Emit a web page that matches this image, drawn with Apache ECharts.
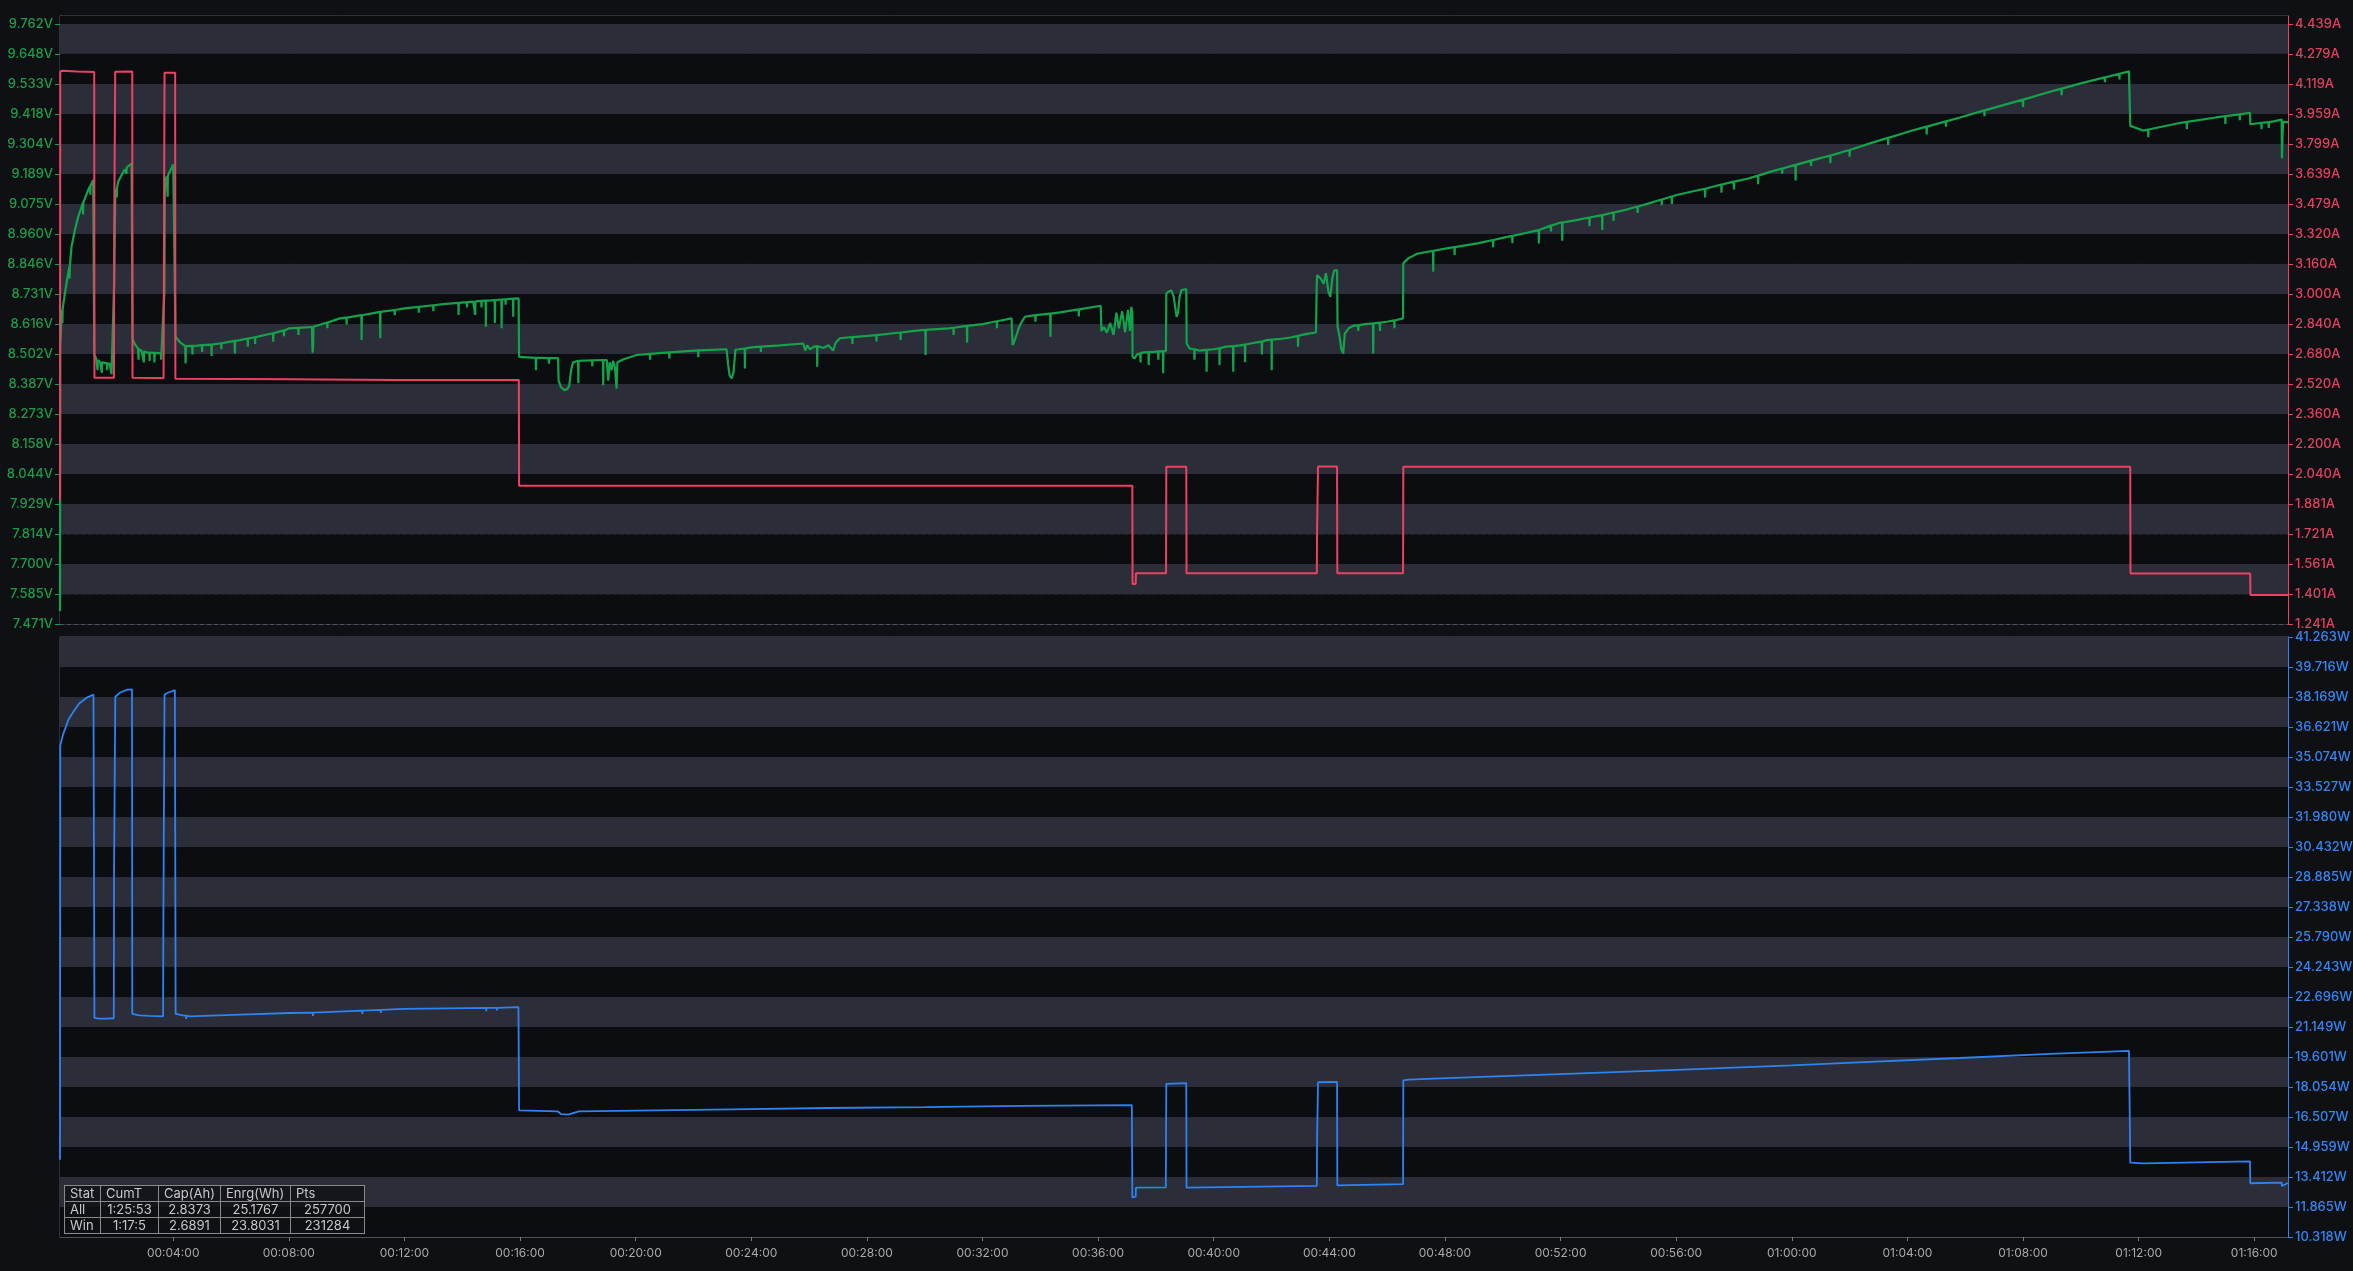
<!DOCTYPE html>
<html>
<head>
<meta charset="utf-8">
<script src="https://cdn.jsdelivr.net/npm/echarts@6/dist/echarts.min.js"></script>
<style>
html,body{margin:0;padding:0;background:#0f1014;width:2353px;height:1271px;overflow:hidden}
#chart{position:absolute;left:0;top:0;width:2353px;height:1271px}
#stats{position:absolute;left:64px;top:1185px;border-collapse:collapse;background:rgba(16,17,21,0.82);
  font-family:Inter,"Noto Sans",sans-serif;font-size:13px;color:#c8c8c8;table-layout:fixed}
#stats td{border:1px solid #8a8a8a;height:15px;line-height:15px;padding:0 0 0 5px;white-space:nowrap;overflow:hidden}
#stats td.c{text-align:center;padding:0}
</style>
</head>
<body>
<div id="chart"></div>
<table id="stats"></table>
<script>
// ---- tick labels ----
const voltTickLabels = ['7.471','7.585','7.700','7.814','7.929','8.044','8.158','8.273','8.387','8.502','8.616','8.731','8.846','8.960','9.075','9.189','9.304','9.418','9.533','9.648','9.762'];
const ampTickLabels = ['1.241','1.401','1.561','1.721','1.881','2.040','2.200','2.360','2.520','2.680','2.840','3.000','3.160','3.320','3.479','3.639','3.799','3.959','4.119','4.279','4.439'];
const wattTickLabels = ['10.318','11.865','13.412','14.959','16.507','18.054','19.601','21.149','22.696','24.243','25.790','27.338','28.885','30.432','31.980','33.527','35.074','36.621','38.169','39.716','41.263'];
const timeTickLabels = ['00:04:00','00:08:00','00:12:00','00:16:00','00:20:00','00:24:00','00:28:00','00:32:00','00:36:00','00:40:00','00:44:00','00:48:00','00:52:00','00:56:00','01:00:00','01:04:00','01:08:00','01:12:00','01:16:00'];
const timeWindow = [5, 4630];

// ---- stats table ----
const statHeader = ['Stat','CumT','Cap(Ah)','Enrg(Wh)','Pts'];
const statRows = [['All','1:25:53','2.8373','25.1767','257700'],['Win','1:17:5','2.6891','23.8031','231284']];

// ---- series: [seconds, value] ----
const voltage = [
[5,7.52],[5.5,8.525],[8.3,8.657],[9.5,8.668],[10,8.62],[10.5,8.674],[15.2,8.734],[22,8.810],[24.5,8.835],[25,8.79],[25.5,8.84],[29,8.912],[35.9,8.975],[42.8,9.026],[49.8,9.064],[52.5,9.079],[53,9.035],[53.5,9.081],[56.7,9.096],[63.5,9.128],[67.5,9.143],[68,9.11],[68.5,9.144],[73.9,9.166],[75.5,9.170],
[76.2,8.50],[80,8.485],[82.5,8.478],[83,8.44],[83.5,8.478],[88,8.472],[91.5,8.470],[92,8.43],[92.5,8.470],[98,8.468],[102.5,8.466],[103,8.44],[103.5,8.466],[108,8.465],[111.5,8.462],[112,8.425],[112.5,8.462],[116.5,8.46],
[117.5,8.78],[118.8,8.96],[119.8,9.10],[121,9.122],[122.5,9.133],[123,9.10],[123.5,9.136],[125.8,9.160],[132.9,9.185],[139.7,9.207],[142.5,9.213],[143,9.19],[143.5,9.214],[146.2,9.221],[153.6,9.230],[154.8,9.232],
[155.6,8.562],[158,8.548],[161,8.538],[164,8.530],[167,8.522],[167.5,8.521],[168,8.48],[168.5,8.52],[174.4,8.514],[178.5,8.511],[179,8.47],[179.5,8.511],[184.8,8.508],[190.5,8.507],[191,8.475],[191.5,8.507],[200.5,8.506],[201,8.47],[201.5,8.506],[210,8.505],[214.5,8.504],[215,8.48],[215.5,8.504],[219.5,8.504],
[220.5,8.70],[221.8,8.74],[222.5,9.10],[223.4,9.166],[227,9.18],[228,9.181],[228.4,9.102],[228.9,9.183],[232,9.195],[236,9.210],[240,9.225],[244,9.232],
[244.8,8.568],[255,8.545],[265,8.532],[265.7,8.466],[266.4,8.532],[279.5,8.533],[280,8.50],[280.5,8.533],[290,8.534],[299.5,8.536],[300,8.51],[300.5,8.536],[319.2,8.538],[319.7,8.494],[320.2,8.538],[339.5,8.543],[340,8.52],[340.5,8.543],[350,8.546],[367.6,8.552],[368.1,8.504],[368.6,8.552],[378.4,8.555],[394.5,8.561],[395,8.53],[395.5,8.561],[409.5,8.566],[410,8.54],[410.5,8.566],[420,8.570],[447.1,8.581],[447.6,8.549],[448.1,8.581],[450,8.582],[469.5,8.592],[470,8.57],[470.5,8.592],[480.8,8.600],[499.5,8.602],[500,8.575],[500.5,8.602],[528,8.605],[529,8.52],[529.5,8.507],[530.5,8.53],[531,8.606],[559.5,8.622],[560,8.60],[560.5,8.622],[586,8.638],[599.5,8.641],[600,8.615],[600.5,8.641],[630.6,8.650],[631.1,8.555],[631.6,8.650],[669.3,8.663],[669.8,8.562],[670.3,8.663],[699.5,8.670],[700,8.65],[700.5,8.670],[719.5,8.676],[749.5,8.682],[750,8.66],[750.5,8.682],[779.5,8.688],[780,8.665],[780.5,8.688],[800,8.692],[831.9,8.697],[832.4,8.651],[832.9,8.697],[849.5,8.700],[850,8.68],[850.5,8.700],[862.8,8.702],[866.4,8.703],[866.9,8.651],[867.4,8.703],[879.5,8.705],[880,8.68],[880.5,8.705],[888.6,8.706],[889.1,8.606],[889.6,8.706],[900,8.707],[907.3,8.708],[907.8,8.62],[908.3,8.708],[921.2,8.710],[921.7,8.600],[922.2,8.710],[929.5,8.711],[930,8.69],[930.5,8.711],[945.3,8.713],[945.8,8.644],[946.3,8.713],[957,8.714],
[958,8.491],[992.5,8.487],[993,8.44],[993.5,8.487],[1000,8.487],[1019.5,8.486],[1020,8.465],[1020.5,8.486],[1039,8.486],[1040,8.40],[1045,8.375],[1052,8.364],[1058,8.368],[1062,8.38],[1066,8.44],[1070,8.47],[1080.5,8.476],[1081,8.390],[1081.5,8.476],[1109.5,8.478],[1110,8.455],[1110.5,8.478],[1132.1,8.479],[1132.6,8.383],[1133.1,8.479],[1140,8.479],[1143,8.40],[1146,8.47],[1150,8.44],[1153,8.476],[1157,8.45],[1160.4,8.370],[1162,8.47],[1175,8.482],[1202,8.498],[1229.5,8.502],[1230,8.48],[1230.5,8.502],[1250,8.505],[1269.5,8.508],[1270,8.485],[1270.5,8.508],[1300,8.512],[1329.5,8.516],[1330,8.49],[1330.5,8.516],[1388.8,8.520],[1392,8.46],[1395,8.42],[1399.2,8.409],[1403,8.43],[1407,8.518],[1426.3,8.523],[1426.8,8.447],[1427.3,8.523],[1439.9,8.527],[1459.5,8.530],[1460,8.51],[1460.5,8.530],[1500,8.535],[1547.8,8.542],[1552,8.515],[1556,8.535],[1562,8.52],[1570,8.53],[1576.4,8.532],[1576.9,8.453],[1577.4,8.532],[1590,8.525],[1600,8.535],[1610,8.515],[1615,8.545],[1624,8.562],[1649.5,8.566],[1650,8.54],[1650.5,8.566],[1681.5,8.571],[1699.5,8.574],[1700,8.55],[1700.5,8.574],[1749.5,8.584],[1750,8.555],[1750.5,8.584],[1783.2,8.591],[1801.4,8.594],[1801.9,8.498],[1802.4,8.594],[1850,8.600],[1859.5,8.602],[1860,8.575],[1860.5,8.602],[1887.5,8.609],[1888,8.545],[1888.5,8.609],[1920.2,8.616],[1949.5,8.627],[1950,8.60],[1950.5,8.627],[1980.4,8.638],[1981,8.60],[1982.5,8.536],[1988,8.56],[1995,8.60],[2000,8.62],[2008,8.644],[2029.5,8.650],[2030,8.625],[2030.5,8.650],[2060.5,8.656],[2061,8.568],[2061.5,8.656],[2080.7,8.661],[2119.5,8.672],[2120,8.645],[2120.5,8.672],[2165.4,8.686],
[2166.8,8.590],[2172,8.605],[2178,8.583],[2185,8.62],[2192,8.575],[2198,8.66],[2203,8.60],[2210,8.665],[2216,8.585],[2222,8.67],[2226,8.59],[2229,8.682],[2231,8.66],
[2231.5,8.49],[2236,8.485],[2240,8.500],[2247.5,8.505],[2248,8.47],[2248.5,8.505],[2255,8.508],[2264.5,8.509],[2265,8.46],[2265.5,8.509],[2275,8.510],[2284.5,8.512],[2285,8.48],[2285.5,8.512],[2294.5,8.513],[2295,8.428],[2295.5,8.513],[2300.8,8.514],
[2301.5,8.733],[2306,8.740],[2312,8.745],[2317,8.72],[2320,8.68],[2322.9,8.644],[2326,8.66],[2329,8.72],[2333,8.746],[2338,8.748],[2343,8.750],
[2343.8,8.542],[2350,8.523],[2359.5,8.520],[2360,8.48],[2360.5,8.520],[2370,8.515],[2384.7,8.518],[2385.2,8.434],[2385.7,8.518],[2400,8.52],[2411.5,8.524],[2412,8.46],[2412.5,8.524],[2425,8.53],[2440,8.532],[2440.5,8.434],[2441,8.532],[2455,8.535],[2464.5,8.538],[2465,8.47],[2465.5,8.538],[2485,8.545],[2499.5,8.549],[2500,8.50],[2500.5,8.549],[2509.9,8.555],[2519.8,8.557],[2520.3,8.440],[2520.8,8.557],[2540,8.56],[2560,8.565],[2574.5,8.571],[2575,8.53],[2575.5,8.571],[2590,8.578],[2612.2,8.584],
[2613.6,8.75],[2614.5,8.803],[2622,8.79],[2628,8.77],[2633,8.81],[2638,8.74],[2642,8.72],[2646,8.79],[2650,8.82],[2656,8.822],
[2657,8.607],[2662,8.56],[2665,8.52],[2668.8,8.504],[2672,8.58],[2680,8.60],[2690,8.610],[2699.5,8.611],[2700,8.59],[2700.5,8.611],[2710,8.615],[2730.6,8.619],[2731.1,8.504],[2731.6,8.619],[2744.5,8.622],[2745,8.59],[2745.5,8.622],[2760,8.625],[2774.5,8.630],[2775,8.60],[2775.5,8.630],[2793,8.638],
[2793.4,8.848],[2803.7,8.867],[2821.2,8.884],[2855.1,8.896],[2855.6,8.816],[2856.1,8.896],[2883.5,8.905],[2899.5,8.910],[2900,8.88],[2900.5,8.910],[2950,8.925],[2979.5,8.937],[2980,8.91],[2980.5,8.937],[3000,8.945],[3019.5,8.953],[3020,8.925],[3020.5,8.953],[3050,8.965],[3074.5,8.975],[3075,8.924],[3075.5,8.975],[3099.5,8.992],[3100,8.97],[3100.5,8.992],[3118.6,9.003],[3123,9.004],[3123.5,8.934],[3124,9.004],[3150,9.012],[3179.5,9.023],[3180,8.99],[3180.5,9.023],[3206,9.032],[3206.5,8.975],[3207,9.032],[3229.5,9.042],[3230,9.01],[3230.5,9.042],[3250,9.05],[3279.5,9.065],[3280,9.04],[3280.5,9.065],[3300,9.075],[3329.5,9.092],[3330,9.07],[3330.5,9.092],[3350.5,9.103],[3351,9.075],[3351.5,9.103],[3360.9,9.109],[3400,9.125],[3419.5,9.133],[3420,9.10],[3420.5,9.133],[3453.5,9.149],[3454,9.118],[3454.5,9.149],[3479.5,9.160],[3480,9.13],[3480.5,9.160],[3510,9.172],[3529.5,9.183],[3530,9.15],[3530.5,9.183],[3560,9.200],[3579.5,9.210],[3580,9.19],[3580.5,9.210],[3599.6,9.220],[3607.4,9.224],[3607.9,9.164],[3608.4,9.224],[3639.5,9.240],[3640,9.22],[3640.5,9.240],[3650,9.245],[3679.5,9.260],[3680,9.23],[3680.5,9.260],[3700,9.270],[3719.5,9.281],[3720,9.255],[3720.5,9.281],[3762.2,9.306],[3799.5,9.327],[3800,9.30],[3800.5,9.327],[3850,9.355],[3879.5,9.370],[3880,9.34],[3880.5,9.370],[3919.5,9.390],[3920,9.37],[3920.5,9.390],[3949,9.405],[3999.5,9.432],[4000,9.41],[4000.5,9.432],[4050,9.458],[4079.5,9.473],[4080,9.445],[4080.5,9.473],[4136,9.503],[4159.5,9.515],[4160,9.49],[4160.5,9.515],[4200,9.535],[4249.5,9.558],[4250,9.54],[4250.5,9.558],[4279.5,9.572],[4280,9.55],[4280.5,9.572],[4299.9,9.581],
[4302.6,9.373],[4329.5,9.355],[4339.5,9.359],[4340,9.33],[4340.5,9.359],[4400,9.382],[4419.5,9.388],[4420,9.36],[4420.5,9.388],[4480,9.405],[4499.5,9.410],[4500,9.38],[4500.5,9.410],[4529.5,9.417],[4530,9.395],[4530.5,9.417],[4551.1,9.423],
[4551.7,9.379],[4574.5,9.384],[4575,9.36],[4575.5,9.384],[4589.5,9.387],[4590,9.365],[4590.5,9.387],[4600,9.390],[4616.8,9.397],[4617.5,9.249],[4618.5,9.33],[4620,9.388],[4630,9.387]
];

const current = [
[5,1.90],[5.5,4.186],[10,4.190],[40,4.186],[76,4.183],[76.5,2.554],[117,2.554],[117.5,3.323],[119,3.323],[119.6,4.185],[155,4.186],[155.5,2.554],[220,2.552],[220.5,3.021],[221.5,3.021],[222,4.179],[244,4.179],[244.5,2.548],[480,2.545],[700,2.542],[957.5,2.541],
[958,1.978],[2231,1.978],[2231.5,1.454],[2238,1.454],[2238.5,1.511],[2301,1.511],[2301.5,2.079],[2343,2.079],[2343.5,1.511],[2614,1.511],[2614.5,1.750],[2616,1.750],[2616.5,2.080],[2656,2.080],[2656.5,1.511],[2793,1.511],[2793.5,2.079],[4302.5,2.079],[4303,1.510],[4551.5,1.510],[4552,1.396],[4630,1.396]
];

const power = [
[5,14.3],[5.5,35.67],[11.4,36.24],[22.6,37.01],[33.6,37.44],[44.8,37.83],[59.6,38.12],[74.5,38.29],[76,38.30],
[76.5,21.62],[85,21.58],[89.5,21.58],[90,21.50],[90.5,21.58],[100,21.58],[116.7,21.60],[117.2,29.11],[119,29.11],[119.8,38.18],[130,38.40],[145,38.55],[154.5,38.56],
[155,21.82],[170,21.75],[190,21.72],[219,21.70],[219.5,26.20],[221.5,26.20],[222,38.29],[230,38.40],[243.5,38.52],
[245,21.82],[260,21.75],[266.5,21.73],[267,21.57],[267.5,21.73],[274.6,21.70],[378.5,21.79],[482.3,21.87],[529.5,21.89],[530,21.72],[530.5,21.89],[632.2,21.99],[632.7,21.82],[633.2,21.99],[670.5,22.03],[671,21.88],[671.5,22.03],[719.5,22.08],[850,22.12],[889.4,22.13],[889.9,21.97],[890.4,22.13],[911.5,22.14],[912,22.00],[912.5,22.14],[956.7,22.17],
[958,16.85],[1038,16.80],[1045,16.66],[1060,16.63],[1082,16.80],[1200,16.84],[1400,16.90],[1600,16.97],[1800,17.02],[2000,17.08],[2230,17.12],
[2231,12.36],[2238,12.40],[2238.5,12.86],[2300.5,12.88],[2301.5,18.22],[2343,18.25],[2343.5,12.86],[2614,12.95],[2614.5,15.30],[2616,15.30],[2616.5,18.30],[2656,18.32],[2656.5,12.98],[2793,13.05],
[2793.5,18.40],[2803.7,18.43],[2883.5,18.51],[3118.6,18.72],[3360.9,18.94],[3599.6,19.17],[3762.2,19.35],[3949,19.55],[4136,19.76],[4299.9,19.92],
[4302.6,14.15],[4329.5,14.12],[4551.1,14.22],[4551.7,13.09],[4616.8,13.12],[4617.5,12.95],[4630,13.10]
];

// ---- build ----
const GREEN = '#14a34c', GREEN_T = '#1c9c48';
const RED = '#ec4262', RED_T = '#e2405d';
const BLUE = '#2f82f2', BLUE_T = '#3585f0';
const FONT = 'Inter, "Noto Sans", sans-serif';
const DARK = '#0c0d11', LIGHT = '#2b2e38', DASH = '#50535d', FRAME = '#4d5058';

const num = a => a.map(s => parseFloat(s));
const voltVals = num(voltTickLabels), ampVals = num(ampTickLabels), wattVals = num(wattTickLabels);
const hms = s => { const p = s.split(':').map(Number); return p[0]*3600 + p[1]*60 + p[2]; };
const timeVals = timeTickLabels.map(hms);
const fmtTime = v => { const t = Math.round(v); const h = Math.floor(t/3600), m = Math.floor(t%3600/60), s = t%60;
  return [h,m,s].map(x => String(x).padStart(2,'0')).join(':'); };
const extendTop = (vals) => vals[vals.length-1] + (vals[1]-vals[0]) * 8/30;
const voltMax = extendTop(voltVals), ampMax = extendTop(ampVals), wattMax = wattVals[wattVals.length-1];

// alternating bands between consecutive ticks: topmost tick band light, bottom band dark
function bands(vals, top) {
  const out = [];
  for (let i = 0; i < vals.length - 1; i++) {
    out.push([{ yAxis: vals[i], itemStyle: { color: i % 2 ? LIGHT : DARK } }, { yAxis: vals[i + 1] }]);
  }
  if (top > vals[vals.length - 1]) out.push([{ yAxis: vals[vals.length - 1], itemStyle: { color: DARK } }, { yAxis: top }]);
  return out;
}

function yAxisDef(opts) {
  return {
    type: 'value', gridIndex: opts.grid, position: opts.pos,
    min: opts.vals[0], max: opts.max,
    axisLine: { show: true, onZero: false, lineStyle: { color: opts.color, width: 1 } },
    axisTick: { show: true, length: 5, customValues: opts.vals, lineStyle: { color: opts.color } },
    axisLabel: { customValues: opts.vals, color: opts.tcolor, fontFamily: FONT, fontSize: 13, fontWeight: 500,
      margin: 7, formatter: v => v.toFixed(3) + opts.unit },
    splitLine: { show: opts.split, lineStyle: { type: [4,3], color: DASH, width: 1 } },
    splitArea: { show: false }
  };
}
function xAxisDef(grid, labels) {
  return {
    type: 'value', gridIndex: grid, min: timeWindow[0], max: timeWindow[1],
    axisLine: { show: labels, onZero: false, lineStyle: { color: FRAME } },
    axisTick: { show: labels, length: 4, customValues: timeVals, lineStyle: { color: '#777a82' } },
    axisLabel: { show: labels, customValues: timeVals, color: '#a9a9a9', fontFamily: FONT, fontSize: 12, margin: 10,
      formatter: fmtTime },
    splitLine: { show: true, lineStyle: { type: [4,3], color: '#45484f', width: 1 } }
  };
}
function bandSeries(xi, yi, vals, top) {
  return { type: 'line', xAxisIndex: xi, yAxisIndex: yi, data: [[timeWindow[0], vals[0]]], symbol: 'none',
    lineStyle: { opacity: 0 }, silent: true, z: -1,
    markArea: { silent: true, label: { show: false }, itemStyle: { borderWidth: 0 }, data: bands(vals, top) } };
}

const chart = echarts.init(document.getElementById('chart'), null, { renderer: 'canvas' });
chart.setOption({
  backgroundColor: '#0f1014',
  animation: false,
  grid: [
    { left: 60, right: 65, top: 16, height: 608, show: true, backgroundColor: 'transparent', borderColor: FRAME, borderWidth: 1, outerBoundsMode: 'none' },
    { left: 60, right: 65, top: 637, height: 600, show: true, backgroundColor: 'transparent', borderColor: FRAME, borderWidth: 1, outerBoundsMode: 'none' }
  ],
  xAxis: [ xAxisDef(0, false), xAxisDef(1, true) ],
  yAxis: [
    yAxisDef({ grid: 0, pos: 'left', vals: voltVals, max: voltMax, color: GREEN, tcolor: GREEN_T, unit: 'V', split: true }),
    yAxisDef({ grid: 0, pos: 'right', vals: ampVals, max: ampMax, color: RED, tcolor: RED_T, unit: 'A', split: false }),
    yAxisDef({ grid: 1, pos: 'right', vals: wattVals, max: wattMax, color: BLUE, tcolor: BLUE_T, unit: 'W', split: true })
  ],
  series: [
    bandSeries(0, 0, voltVals, voltMax),
    bandSeries(1, 2, wattVals, wattMax),
    { name: 'Voltage', type: 'line', xAxisIndex: 0, yAxisIndex: 0, data: voltage, showSymbol: false, symbol: 'none',
      lineStyle: { color: GREEN, width: 2.2 }, silent: true, z: 3 },
    { name: 'Current', type: 'line', xAxisIndex: 0, yAxisIndex: 1, data: current, showSymbol: false, symbol: 'none',
      lineStyle: { color: RED, width: 2 }, silent: true, z: 4 },
    { name: 'Power', type: 'line', xAxisIndex: 1, yAxisIndex: 2, data: power, showSymbol: false, symbol: 'none',
      lineStyle: { color: BLUE, width: 1.8 }, silent: true, z: 3 }
  ]
});

// stats table
const widths = [36, 58, 62, 70, 74];
const tbl = document.getElementById('stats');
let html = '<colgroup>' + widths.map(w => '<col style="width:' + w + 'px">').join('') + '</colgroup>';
html += '<tr>' + statHeader.map(h => '<td>' + h + '</td>').join('') + '</tr>';
statRows.forEach(r => { html += '<tr>' + r.map((c, i) => '<td' + (i ? ' class="c"' : '') + '>' + c + '</td>').join('') + '</tr>'; });
tbl.innerHTML = html;
</script>
</body>
</html>
